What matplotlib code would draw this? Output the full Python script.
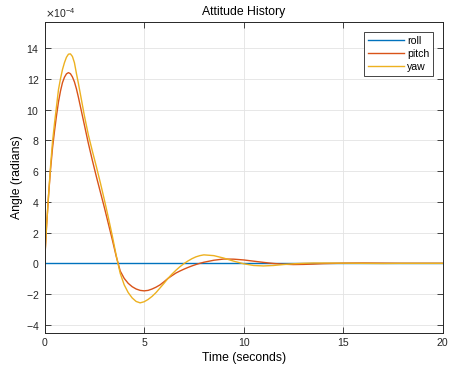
import matplotlib.pyplot as plt
import matplotlib.ticker as mticker

plt.rcParams['font.family'] = ['Liberation Sans', 'DejaVu Sans']
plt.rcParams['axes.unicode_minus'] = False

# time samples (s)
t = [0.0, 0.1, 0.2, 0.3, 0.4, 0.5, 0.6, 0.7, 0.8, 0.9, 1.0,
     1.1, 1.2, 1.3, 1.4, 1.5, 1.6, 1.7, 1.8, 1.9, 2.0,
     2.2, 2.4, 2.6, 2.8, 3.0, 3.2, 3.4, 3.6, 3.8, 4.0,
     4.2, 4.4, 4.6, 4.8, 5.0, 5.2, 5.4, 5.6, 5.8, 6.0,
     6.2, 6.4, 6.6, 6.8, 7.0, 7.2, 7.4, 7.6, 7.8, 8.0,
     8.5, 9.0, 9.5, 10.0, 10.5, 11.0, 11.5, 12.0, 12.5, 13.0,
     13.5, 14.0, 15.0, 16.0, 17.0, 18.0, 19.0, 20.0]

# angles in units of 1e-4 rad
roll = [0.0] * len(t)

pitch = [0.0, 2.4, 4.4, 6.1, 7.5, 8.6, 9.6, 10.5, 11.2, 11.75, 12.1,
         12.32, 12.4, 12.33, 12.12, 11.8, 11.35, 10.8, 10.2, 9.6, 9.0,
         7.8, 6.7, 5.65, 4.65, 3.65, 2.6, 1.55, 0.45, -0.5, -0.98,
         -1.3, -1.52, -1.67, -1.76, -1.79, -1.76, -1.67, -1.55, -1.4, -1.2,
         -0.98, -0.8, -0.63, -0.5, -0.38, -0.27, -0.17, -0.08, 0.0, 0.07,
         0.2, 0.28, 0.27, 0.22, 0.14, 0.06, -0.01, -0.06, -0.08, -0.07,
         -0.05, -0.02, 0.01, 0.02, 0.01, 0.0, 0.0, 0.0]

yaw = [0.0, 2.4, 4.4, 6.3, 7.9, 9.1, 10.2, 11.3, 12.0, 12.6, 13.05,
       13.4, 13.6, 13.62, 13.45, 13.05, 12.35, 11.7, 11.0, 10.3, 9.6,
       8.35, 7.3, 6.3, 5.25, 4.15, 3.0, 1.8, 0.5, -0.65, -1.4,
       -1.9, -2.25, -2.48, -2.57, -2.5, -2.35, -2.15, -1.9, -1.6, -1.3,
       -0.98, -0.7, -0.45, -0.22, -0.02, 0.15, 0.3, 0.42, 0.5, 0.55,
       0.5, 0.34, 0.14, -0.03, -0.14, -0.17, -0.14, -0.08, -0.03, 0.0,
       0.02, 0.02, 0.01, 0.0, -0.01, 0.0, 0.0, 0.0]

scale = 1e-4

fig = plt.figure(figsize=(4.5, 3.76), dpi=100)
ax = fig.add_axes([0.099, 0.1144, 0.885, 0.827])

ax.plot(t, [v * scale for v in roll], color='#0072BD', lw=1.0, label='roll')
ax.plot(t, [v * scale for v in pitch], color='#D95319', lw=1.0, label='pitch')
ax.plot(t, [v * scale for v in yaw], color='#EDB120', lw=1.0, label='yaw')

ax.set_xlim(0, 20)
ax.set_ylim(-4.53e-4, 15.69e-4)
ax.xaxis.set_major_locator(mticker.MultipleLocator(5))
ax.yaxis.set_major_locator(mticker.MultipleLocator(2e-4))
fmt = mticker.ScalarFormatter(useMathText=True)
fmt.set_powerlimits((-4, -4))
ax.yaxis.set_major_formatter(fmt)
ax.yaxis.get_offset_text().set_fontsize(7.6)

ax.grid(True, color='#e3e3e3', lw=0.6)
ax.set_axisbelow(True)
for s in ax.spines.values():
    s.set_color('#262626')
    s.set_linewidth(0.7)
ax.tick_params(direction='in', length=4, width=0.6, colors='#262626',
               labelsize=7.6, top=True, right=True)

ax.set_title('Attitude History', fontsize=8.8, pad=5)
ax.set_xlabel('Time (seconds)', fontsize=8.8, labelpad=3)
ax.set_ylabel('Angle (radians)', fontsize=8.8, labelpad=2)

leg = ax.legend(loc='upper right', fontsize=7.6, fancybox=False, framealpha=1,
                edgecolor='#262626', handlelength=3.4, handletextpad=0.3,
                labelspacing=0.3, borderaxespad=0.95, borderpad=0.35)
leg.get_frame().set_linewidth(0.6)

fig.savefig('out.png', dpi=100)
